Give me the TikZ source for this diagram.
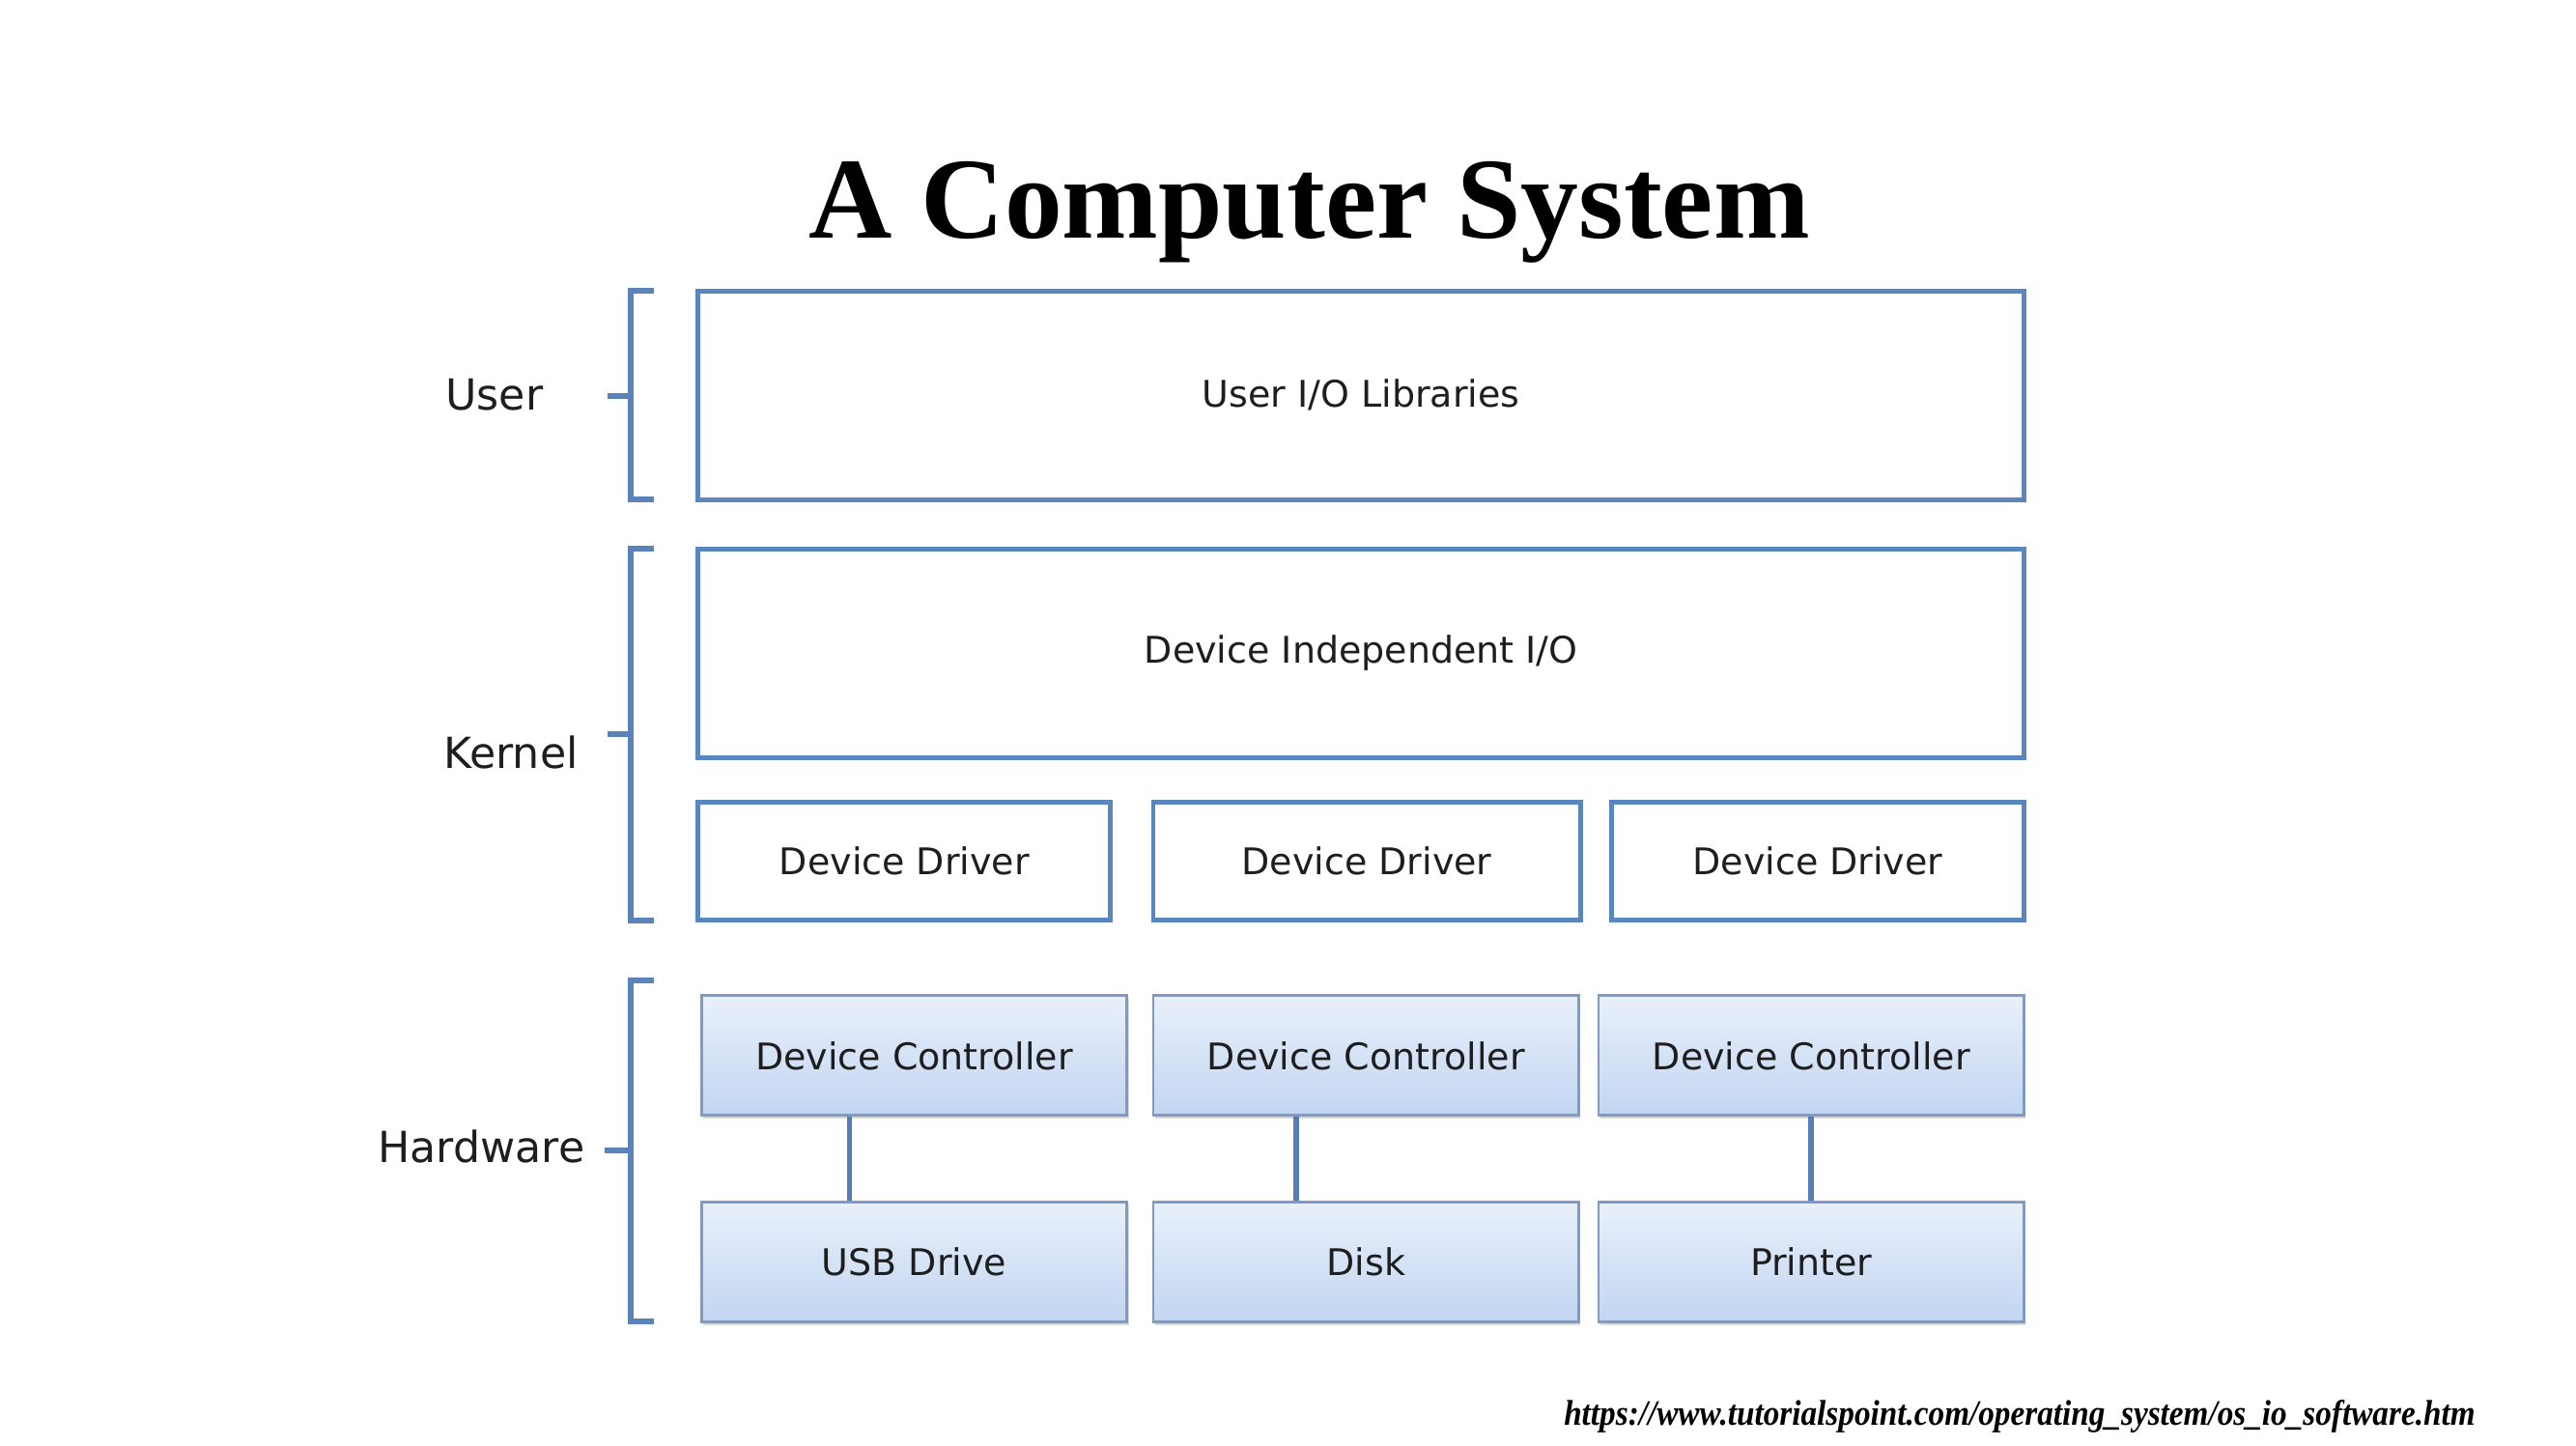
\documentclass[tikz,border=0pt]{standalone}
\usepackage{fontspec}
\setmainfont{Liberation Serif}
\newfontfamily\boxfont{DejaVu Sans}
\usepackage{xcolor}
\usetikzlibrary{positioning,shadows}
\definecolor{EdgeBlue}{HTML}{5A86BE}
\definecolor{BrkBlue}{HTML}{5B83B8}
\definecolor{CtrlEdge}{HTML}{7F9BC4}
\definecolor{CtrlTop}{HTML}{E9F0FB}
\definecolor{CtrlBot}{HTML}{C2D5F1}
\definecolor{InkDark}{HTML}{1E1E1E}

\begin{document}
\begin{tikzpicture}[x=0.017cm,y=-0.017cm,
    bx/.style={rectangle,draw=EdgeBlue,line width=1.4pt,fill=white,
               minimum width=#1,inner sep=0pt,
               font=\boxfont\fontsize{10.8}{12}\selectfont,text=InkDark},
    gb/.style={rectangle,draw=CtrlEdge,line width=0.8pt,
               top color=CtrlTop,bottom color=CtrlBot,
               minimum width=4.403cm,minimum height=1.24cm,inner sep=0pt,
               drop shadow={shadow xshift=0.5pt,shadow yshift=-0.9pt,opacity=0.3},
               font=\boxfont\fontsize{10.8}{12}\selectfont,text=InkDark},
    lay/.style={font=\boxfont\fontsize{12.6}{14}\selectfont,text=InkDark},
    brk/.style={draw=BrkBlue,line width=1.7pt},
    ln/.style={draw=EdgeBlue!95!black,line width=1.6pt}]
\useasboundingbox (0,0) rectangle (1568,880);
% title
\node[font=\bfseries\fontsize{34}{40}\selectfont] (ttl) at (797,129) {A Computer System};
% user + kernel layers
\node[bx=13.72cm,minimum height=2.159cm] (usr) at (828.5,240.5) {User I/O Libraries};
\node[bx=13.72cm,minimum height=2.159cm] (dio) at (828.5,397.5) {Device Independent I/O};
\node[bx=4.267cm,minimum height=1.224cm] (dd1) at (550.5,524) {Device Driver};
\node[bx=4.42cm,minimum height=1.224cm]  (dd2) at (832,524)   {Device Driver};
\node[bx=4.267cm,minimum height=1.224cm] (dd3) at (1106.5,524) {Device Driver};
% hardware
\node[gb] (dc1) at (556.5,642.5)  {Device Controller};
\node[gb] (dc2) at (831.5,642.5)  {Device Controller};
\node[gb] (dc3) at (1102.5,642.5) {Device Controller};
\node[gb] (usb) at (556.5,768)  {USB Drive};
\node[gb] (dsk) at (831.5,768)  {Disk};
\node[gb] (prn) at (1102.5,768) {Printer};
\draw[ln] ([xshift=-0.67cm]dc1.south) -- ([xshift=-0.67cm]usb.north);
\draw[ln] ([xshift=-0.72cm]dc2.south) -- ([xshift=-0.72cm]dsk.north);
\draw[ln] (dc3.south) -- (prn.north);
% brackets
\draw[brk] (398,177) -- (384,177) -- (384,304) -- (398,304);
\draw[brk] (370,241) -- (384,241);
\draw[brk] (398,334) -- (384,334) -- (384,560) -- (398,560);
\draw[brk] (370,447) -- (384,447);
\draw[brk] (398,597) -- (384,597) -- (384,804) -- (398,804);
\draw[brk] (368,700) -- (384,700);
\node[lay] (lu) at (301,240) {User};
\node[lay] (lk) at (311,458) {Kernel};
\node[lay] (lh) at (293,698) {Hardware};
% source
\node[anchor=east,inner sep=0pt,font=\bfseries\itshape\fontsize{10.5}{12}\selectfont] (src) at (1507,862)
  {\scalebox{0.9}[1]{https://www.tutorialspoint.com/operating\_system/os\_io\_software.htm}};
\end{tikzpicture}
\end{document}
